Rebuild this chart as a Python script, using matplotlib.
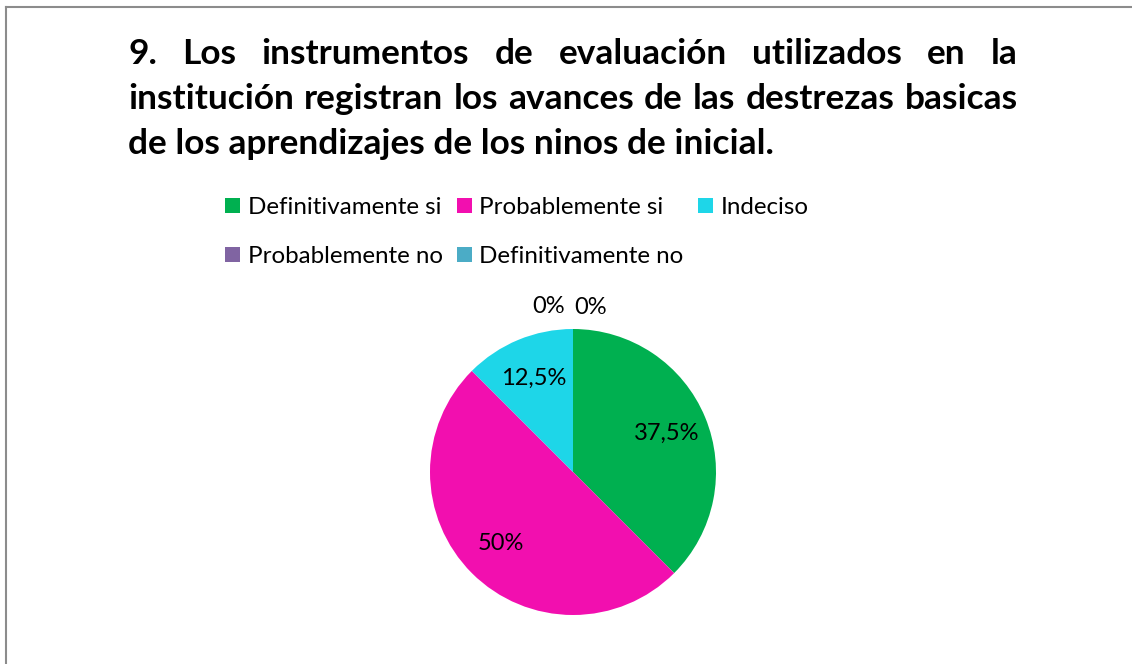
import matplotlib.pyplot as plt
from matplotlib.patches import Patch
from matplotlib.lines import Line2D

title_lines = [
    "9. Los instrumentos de evaluación utilizados en la",
    "institución registran los avances de las destrezas basicas",
    "de los aprendizajes de los ninos de inicial.",
]
categories = ["Definitivamente si", "Probablemente si", "Indeciso",
              "Probablemente no", "Definitivamente no"]
values = [37.5, 50, 12.5, 0, 0]
colors = ["#00B050", "#F20FAF", "#1ED6E8", "#8064A2", "#4BACC6"]

plt.rcParams['font.family'] = ['Lato', 'DejaVu Sans']

W, H = 1132, 664
fig = plt.figure(figsize=(W / 100, H / 100), dpi=100)
fig.patch.set_facecolor("white")

# border (only left and top visible in the crop)
fig.add_artist(Line2D([5.5 / W, 5.5 / W], [0, 1 - 7 / H], color="#8c8c8c", lw=1.5))
fig.add_artist(Line2D([5.5 / W, 1], [1 - 7 / H, 1 - 7 / H], color="#8c8c8c", lw=1.5))

# justified title
renderer = fig.canvas.get_renderer()
x_left, x_right = 128, 1018
baselines = [64, 109, 154]
tsize = 25.4
for i, line in enumerate(title_lines):
    words = line.split()
    y = 1 - baselines[i] / H
    if i == len(title_lines) - 1:
        fig.text(x_left / W, y, line, fontsize=tsize, fontweight="bold", va="baseline")
        continue
    objs = [fig.text(0, y, w, fontsize=tsize, fontweight="bold", va="baseline") for w in words]
    widths = [o.get_window_extent(renderer).width for o in objs]
    gap = (x_right - x_left - sum(widths)) / (len(words) - 1)
    x = x_left
    for o, w in zip(objs, widths):
        o.set_x(x / W)
        x += w + gap

# pie
cx, cy, r = 573, 472, 143
half = r * 1.25
ax = fig.add_axes([(cx - half) / W, (H - cy - half) / H, 2 * half / W, 2 * half / H])


def fmt(p):
    return ("%g" % round(p, 1)).replace(".", ",") + "%"


wedges, texts, autotexts = ax.pie(values, colors=colors, startangle=90, counterclock=False,
                                  autopct=fmt, pctdistance=0.71,
                                  textprops=dict(fontsize=17, color="black"))
# zero slices: labels sit just above the top of the pie
autotexts[3].set_position((-0.168, 1.154))
autotexts[4].set_position((0.126, 1.147))
ax.set_aspect("equal")

# legend, row-major order as in reference
order = [0, 3, 1, 4, 2]
handles = [Patch(facecolor=colors[k], label=categories[k]) for k in order]
fig.legend(handles=handles, ncol=3, loc="center left",
           bbox_to_anchor=(206 / W, 1 - 232 / H), frameon=False, fontsize=17.4,
           handlelength=0.62, handleheight=0.62, handletextpad=0.3,
           columnspacing=0.6, labelspacing=1.15, borderpad=0.3)

fig.savefig("out.png", dpi=100)
